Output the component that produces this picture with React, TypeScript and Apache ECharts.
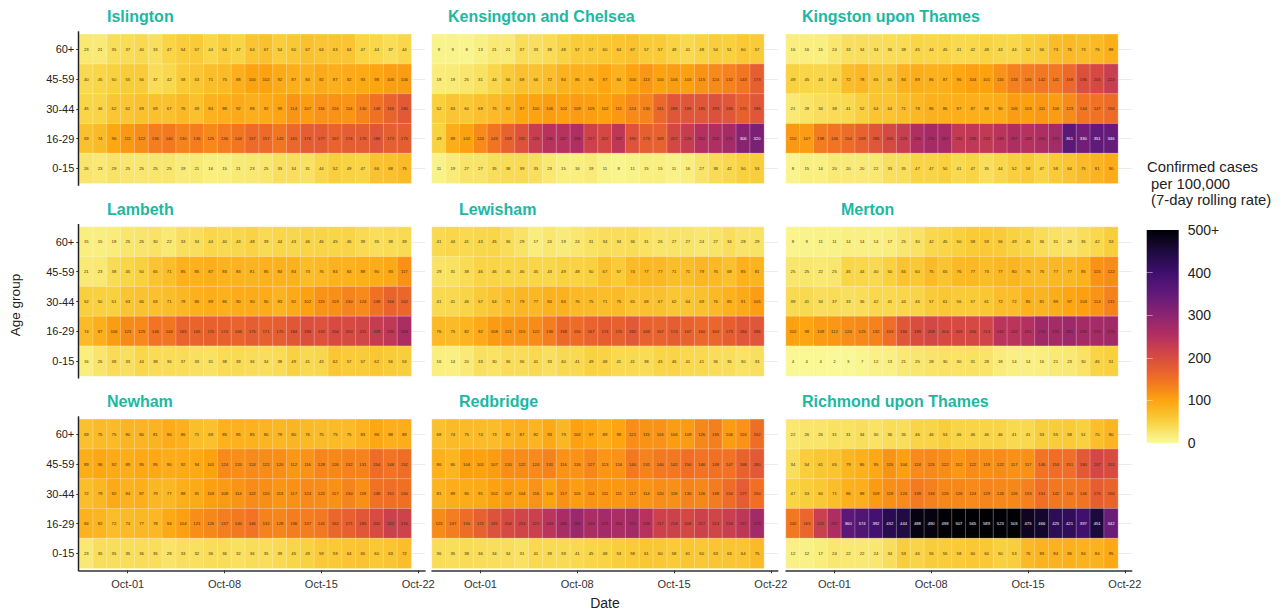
import React, { useEffect, useRef } from "react";
import * as echarts from "echarts";

const days = ["Sep-28","Sep-29","Sep-30","Oct-01","Oct-02","Oct-03","Oct-04","Oct-05","Oct-06","Oct-07","Oct-08","Oct-09","Oct-10","Oct-11","Oct-12","Oct-13","Oct-14","Oct-15","Oct-16","Oct-17","Oct-18","Oct-19","Oct-20","Oct-21","Oct-22"];
const tickDays = ["Oct-01","Oct-08","Oct-15","Oct-22"];
const ageGroups = ["0-15","16-29","30-44","45-59","60+"];
const legendTicks = [100,200,300,400];

// rows run from 60+ down to 0-15
const islington = [
  [23,21,35,37,40,33,47,54,57,44,54,47,64,67,54,60,67,64,63,64,47,44,37,44],
  [40,45,50,55,56,37,42,58,63,71,75,88,100,102,92,87,84,92,87,92,93,98,105,106],
  [45,46,62,62,69,69,67,76,69,84,88,92,88,92,99,114,107,116,116,114,130,148,166,180],
  [69,74,96,111,122,136,140,130,136,125,136,144,157,157,143,161,176,177,167,176,176,186,173,175],
  [26,23,29,25,25,25,25,19,21,16,15,21,23,25,33,34,31,44,52,49,47,66,68,75],
];
const kensington = [
  [9,9,8,13,21,21,37,33,38,48,57,57,60,64,67,57,57,48,41,48,54,51,60,57],
  [18,19,25,31,44,56,68,66,72,84,86,86,97,84,100,113,100,106,103,115,124,132,143,173],
  [52,63,60,69,75,82,97,100,106,102,109,105,102,111,124,130,161,186,186,185,193,186,170,186],
  [49,89,102,124,145,169,192,225,246,247,256,217,207,237,190,173,169,207,226,252,256,271,306,320],
  [11,19,27,27,35,38,39,33,23,15,16,19,11,8,11,15,15,11,16,27,38,42,50,53],
];
const kingston = [
  [16,16,15,24,33,34,34,36,38,45,44,45,41,42,48,43,44,52,56,73,76,73,76,88],
  [49,45,43,46,72,78,65,65,84,89,86,87,96,104,101,116,133,136,142,141,158,196,205,224],
  [21,28,34,38,41,52,64,64,71,78,86,86,87,87,88,90,106,103,111,106,123,144,147,156],
  [110,107,138,146,154,169,186,206,224,256,270,267,232,236,233,245,257,248,260,272,361,330,351,346],
  [8,15,14,20,20,20,22,33,35,47,47,50,41,47,35,44,52,58,47,58,64,75,81,90],
];
const lambeth = [
  [15,15,18,25,26,30,22,33,34,44,40,43,48,39,44,43,46,46,45,46,39,35,38,39],
  [21,23,38,45,50,65,71,85,85,87,83,83,81,85,84,84,73,76,84,84,88,90,93,117],
  [52,50,51,63,66,69,71,78,86,89,86,90,90,90,83,92,102,115,119,130,124,148,166,162],
  [74,87,106,123,125,146,144,165,165,170,170,166,175,171,175,184,196,192,204,203,211,228,236,263],
  [16,26,38,33,44,38,36,37,33,31,38,39,36,34,38,49,41,43,62,57,57,62,56,53],
];
const lewisham = [
  [41,44,41,43,45,36,29,17,24,19,24,31,34,34,36,31,26,27,27,24,27,34,28,29],
  [29,31,38,46,46,45,46,45,43,49,48,50,67,57,74,77,77,71,71,79,76,68,85,81],
  [41,41,46,57,64,71,79,77,84,84,76,75,71,75,65,68,67,62,64,69,76,85,91,105],
  [76,75,82,92,108,113,115,122,136,158,155,167,174,170,182,169,167,174,167,160,163,173,184,186],
  [16,14,20,33,30,36,36,41,33,40,41,49,48,41,41,38,45,46,41,41,36,35,30,33],
];
const merton = [
  [8,9,11,11,14,14,14,17,25,30,42,45,50,58,59,56,49,45,36,31,28,35,42,53],
  [25,25,22,25,45,44,40,50,65,60,75,65,76,77,73,77,80,75,75,77,77,85,115,122],
  [39,41,34,37,33,36,42,41,44,46,57,61,56,57,61,72,72,85,81,89,97,103,114,131],
  [102,98,109,112,120,125,132,153,184,199,209,204,203,206,213,242,242,251,276,270,281,269,270,276],
  [4,4,4,2,3,7,12,13,21,25,28,30,30,31,28,18,14,14,16,21,23,30,46,51],
];
const newham = [
  [69,75,75,80,80,81,90,86,71,69,85,85,85,80,79,80,76,75,75,75,83,96,88,89],
  [89,96,92,89,95,95,90,92,94,101,124,120,124,122,120,112,116,128,126,132,131,154,146,152],
  [72,79,92,84,87,79,77,88,91,103,108,114,122,120,113,117,124,122,117,130,118,148,151,150],
  [84,82,72,74,77,78,94,104,121,126,137,140,146,132,128,136,137,141,162,171,185,202,222,216],
  [23,35,35,35,36,35,28,33,32,36,36,32,36,35,39,45,49,59,59,64,65,60,63,72],
];
const redbridge = [
  [68,74,75,74,73,82,87,82,93,79,102,97,89,99,121,115,116,106,109,126,135,106,116,152],
  [86,80,104,101,107,120,122,124,131,116,116,127,113,116,140,131,140,142,150,146,148,147,168,180],
  [81,89,90,91,102,107,104,116,100,117,105,114,111,111,117,114,120,118,130,126,138,154,177,150],
  [123,137,155,172,191,204,213,221,243,265,282,263,271,263,270,246,217,218,208,217,213,224,237,273],
  [36,35,38,36,34,34,31,41,39,39,41,45,48,53,58,61,60,58,61,60,63,63,64,75],
];
const richmond = [
  [22,26,26,31,31,34,30,36,35,46,46,53,46,46,46,46,41,41,53,55,58,51,70,80],
  [34,54,61,65,79,86,95,115,104,124,125,122,112,122,119,122,117,117,146,153,151,180,207,202],
  [47,53,60,71,86,88,109,119,124,139,133,126,126,124,129,126,126,133,151,142,140,146,175,166],
  [142,163,222,257,360,374,392,432,444,488,490,498,507,565,589,523,503,475,466,425,421,397,451,342],
  [12,12,17,24,22,22,24,34,53,46,55,55,58,60,60,50,53,76,83,84,86,84,84,95],
];

const boroughs = ["Islington","Kensington and Chelsea","Kingston upon Thames","Lambeth","Lewisham","Merton","Newham","Redbridge","Richmond upon Thames"];
const boroughValues = [islington,kensington,kingston,lambeth,lewisham,merton,newham,redbridge,richmond];
const titleLeft = [107,448,802,107,459,841,107,459,802];
const colLeft = [79.3,432,786];
const rowTop = [34.3,227,419.3];
const cellW = 13.83;
const panelH = 149;

const rampStops = ["#f9fb9c","#f9d13f","#fda30f","#f06f25","#d94c3f","#b53060","#8c2470","#621a7a","#3f0f6e","#1d0a3f","#000004"];

const teal = "#1cb8a2";
const grids: any[] = [], xAxes: any[] = [], yAxes: any[] = [], series: any[] = [], titles: any[] = [];

boroughs.forEach((name, i) => {
  const col = i % 3, row = Math.floor(i / 3);
  const isBottom = row === 2, isLeft = col === 0;
  grids.push({ left: colLeft[col], top: rowTop[row], width: cellW * days.length, height: panelH, containLabel: false });
  xAxes.push({
    type: "category", gridIndex: i, data: days, boundaryGap: true,
    axisLine: { show: isBottom, lineStyle: { color: "#333", width: 1.5 }, onZero: false },
    axisTick: { show: isBottom, alignWithLabel: true, length: 3, lineStyle: { color: "#333" },
      interval: (idx: number, v: string) => tickDays.includes(v) },
    axisLabel: { show: isBottom, fontSize: 11, color: "#333", fontFamily: "Liberation Sans", margin: 8,
      interval: (idx: number, v: string) => tickDays.includes(v) },
    splitLine: { show: false }, offset: 2,
  });
  yAxes.push({
    type: "category", gridIndex: i, data: ageGroups, boundaryGap: true,
    axisLine: { show: false, onZero: false },
    axisTick: { show: isLeft, alignWithLabel: true, length: 3, lineStyle: { color: "#333" } },
    axisLabel: { show: isLeft, fontSize: 11, color: "#222", fontFamily: "Liberation Sans", margin: 5 },
    splitLine: { show: false },
  });
  const vals = boroughValues[i];
  const data: any[] = [];
  vals.forEach((r, ri) => r.forEach((v, di) => {
    data.push({
      value: [days[di], ageGroups[4 - ri], v],
      label: { color: v >= 300 ? "#fff" : "#3a2a10" },
    });
  }));
  series.push({
    type: "heatmap", xAxisIndex: i, yAxisIndex: i, data, z: 3,
    itemStyle: { borderColor: "rgba(255,255,255,0.45)", borderWidth: 0.6 },
    label: { show: true, fontSize: 4.2, fontFamily: "Liberation Sans", formatter: (p: any) => String(p.value[2]) },
    emphasis: { disabled: true },
    markLine: {
      silent: true, symbol: "none", z: 1, animation: false, label: { show: false },
      lineStyle: { color: "#ebebeb", width: 1, type: "solid" },
      data: ageGroups.map((a) => ({ yAxis: a })),
    },
  });
  titles.push({ text: name, left: titleLeft[i], top: rowTop[row] - 26, padding: 0,
    textStyle: { color: teal, fontSize: 16, fontWeight: "bold", fontFamily: "Liberation Sans" } });
});

// colour bar: one extra grid whose background is the ramp, with value axes for its ticks
grids.push({
  left: 1146.7, top: 230, width: 32, height: 213, show: true, borderWidth: 0,
  backgroundColor: new echarts.graphic.LinearGradient(0, 1, 0, 0,
    rampStops.map((c, k) => ({ offset: k / (rampStops.length - 1), color: c }))),
});
xAxes.push({ type: "value", gridIndex: 9, show: false, min: 0, max: 1 });
const legendAxis = (position: string, showLabel: boolean) => ({
  type: "value", gridIndex: 9, position, min: 0, max: 500, interval: 100,
  axisLine: { show: false }, splitLine: { show: false },
  axisTick: { show: true, inside: true, length: 6, customValues: legendTicks, lineStyle: { color: "rgba(255,255,255,0.45)", width: 1 } },
  axisLabel: { show: showLabel, fontSize: 14, color: "#222", fontFamily: "Liberation Sans", margin: 9,
    formatter: (v: number) => (v === 500 ? "500+" : String(v)) },
});
yAxes.push(legendAxis("right", true));
yAxes.push(legendAxis("left", false));

const yAxisLines = rowTop.map((top, r) => ({
  type: "line",
  shape: { x1: colLeft[0] - 0.8, y1: top - 3, x2: colLeft[0] - 0.8, y2: top + panelH + (r === 2 ? 3 : 2.5) },
  style: { stroke: "#222", lineWidth: 1.5 },
  z: 10,
}));

const option: any = {
  animation: false,
  backgroundColor: "#fff",
  title: titles,
  grid: grids,
  xAxis: xAxes,
  yAxis: yAxes,
  series,
  visualMap: {
    show: false, type: "continuous", min: 0, max: 500, dimension: 2,
    seriesIndex: boroughs.map((_, i) => i),
    inRange: { color: rampStops },
  },
  graphic: [
    ...yAxisLines,
    { type: "text", x: 15, y: 305, rotation: Math.PI / 2, style: { text: "Age group", fontSize: 13.5, fill: "#222", fontFamily: "Liberation Sans", align: "center", verticalAlign: "middle" } },
    { type: "text", x: 605, y: 603, style: { text: "Date", fontSize: 14, fill: "#222", fontFamily: "Liberation Sans", align: "center", verticalAlign: "middle" } },
    { type: "text", x: 1147, y: 159, style: { text: "Confirmed cases\n per 100,000\n (7-day rolling rate)", fontSize: 14.8, lineHeight: 16.5, fill: "#222", fontFamily: "Liberation Sans" } },
  ],
};

export default function App() {
  const ref = useRef<HTMLDivElement>(null);
  useEffect(() => {
    const chart = echarts.init(ref.current!, undefined, { renderer: "svg" });
    chart.setOption(option);
    return () => chart.dispose();
  }, []);
  return <div ref={ref} style={{ position: "absolute", left: 0, top: 0, width: 1287, height: 615 }} />;
}
